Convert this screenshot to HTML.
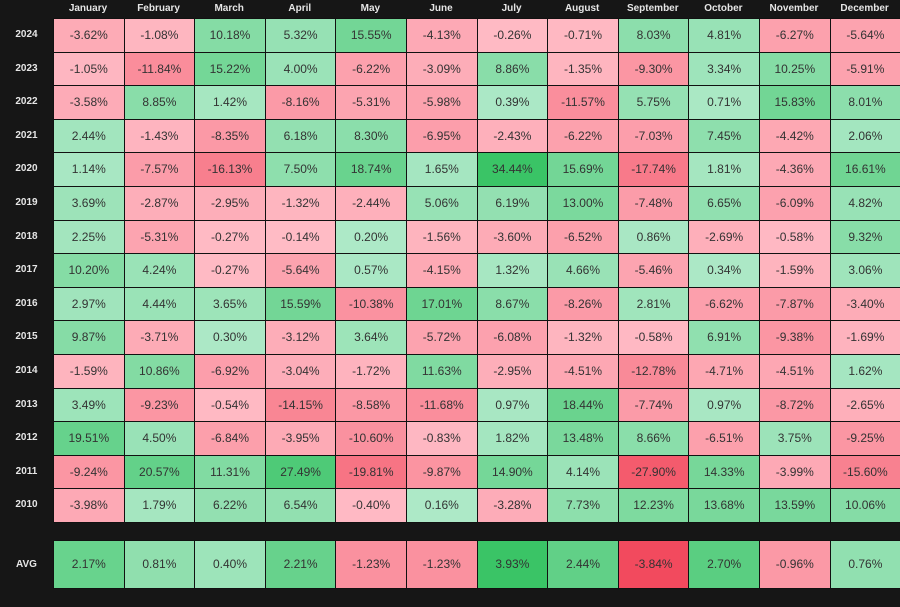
<!DOCTYPE html>
<html><head><meta charset="utf-8"><style>
body{margin:0;background:#161616;width:900px;height:607px;overflow:hidden;font-family:"Liberation Sans",sans-serif;position:relative}
.h{position:absolute;top:3px;font-size:10px;font-weight:bold;color:#e6e6e6;text-align:center;width:70px}
.y{position:absolute;left:0;width:53px;font-size:10px;font-weight:bold;color:#e6e6e6;text-align:center}
.c{position:absolute;font-size:12px;color:#333;text-align:center;box-sizing:border-box;border:1px solid #111}
</style></head><body>
<div id="g"></div>
<script>
const months=["January","February","March","April","May","June","July","August","September","October","November","December"];
const rows=[
["2024","-3.62 -1.08 10.18 5.32 15.55 -4.13 -0.26 -0.71 8.03 4.81 -6.27 -5.64"],
["2023","-1.05 -11.84 15.22 4.00 -6.22 -3.09 8.86 -1.35 -9.30 3.34 10.25 -5.91"],
["2022","-3.58 8.85 1.42 -8.16 -5.31 -5.98 0.39 -11.57 5.75 0.71 15.83 8.01"],
["2021","2.44 -1.43 -8.35 6.18 8.30 -6.95 -2.43 -6.22 -7.03 7.45 -4.42 2.06"],
["2020","1.14 -7.57 -16.13 7.50 18.74 1.65 34.44 15.69 -17.74 1.81 -4.36 16.61"],
["2019","3.69 -2.87 -2.95 -1.32 -2.44 5.06 6.19 13.00 -7.48 6.65 -6.09 4.82"],
["2018","2.25 -5.31 -0.27 -0.14 0.20 -1.56 -3.60 -6.52 0.86 -2.69 -0.58 9.32"],
["2017","10.20 4.24 -0.27 -5.64 0.57 -4.15 1.32 4.66 -5.46 0.34 -1.59 3.06"],
["2016","2.97 4.44 3.65 15.59 -10.38 17.01 8.67 -8.26 2.81 -6.62 -7.87 -3.40"],
["2015","9.87 -3.71 0.30 -3.12 3.64 -5.72 -6.08 -1.32 -0.58 6.91 -9.38 -1.69"],
["2014","-1.59 10.86 -6.92 -3.04 -1.72 11.63 -2.95 -4.51 -12.78 -4.71 -4.51 1.62"],
["2013","3.49 -9.23 -0.54 -14.15 -8.58 -11.68 0.97 18.44 -7.74 0.97 -8.72 -2.65"],
["2012","19.51 4.50 -6.84 -3.95 -10.60 -0.83 1.82 13.48 8.66 -6.51 3.75 -9.25"],
["2011","-9.24 20.57 11.31 27.49 -19.81 -9.87 14.90 4.14 -27.90 14.33 -3.99 -15.60"],
["2010","-3.98 1.79 6.22 6.54 -0.40 0.16 -3.28 7.73 12.23 13.68 13.59 10.06"]];
const avg="2.17 0.81 0.40 2.21 -1.23 -1.23 3.93 2.44 -3.84 2.70 -0.96 0.76";
function mix(a,b,t){return "rgb("+a.map((v,i)=>Math.round(v+(b[i]-v)*t)).join(",")+")"}
function col(v,m){let t=Math.min(1,Math.pow(Math.abs(v)/m,0.85));
return v<0?mix([255,188,198],[242,72,92],t):mix([174,233,200],[58,196,102],t)}
let h="";const X=i=>53+i*70.6;
months.forEach((m,i)=>h+=`<div class="h" style="left:${X(i)}px">${m}</div>`);
rows.forEach((r,j)=>{const y=18+j*33.6;h+=`<div class="y" style="top:${y+11}px">${r[0]}</div>`;
r[1].split(" ").forEach((v,i)=>h+=`<div class="c" style="left:${X(i)}px;top:${y}px;width:71.6px;height:34.6px;line-height:32px;background:${col(+v,34.44)}">${v}%</div>`)});
h+=`<div class="y" style="top:559px">AVG</div>`;
avg.split(" ").forEach((v,i)=>h+=`<div class="c" style="left:${X(i)}px;top:540px;width:71.6px;height:49px;line-height:47px;background:${col(+v,3.93)}">${v}%</div>`);
document.getElementById("g").innerHTML=h;
</script>
</body></html>
